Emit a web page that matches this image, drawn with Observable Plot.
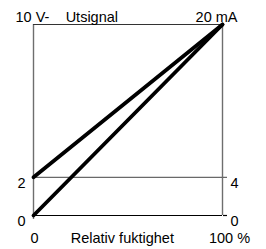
<!DOCTYPE html>
<html><head><meta charset="utf-8">
<script src="https://cdn.jsdelivr.net/npm/d3@7"></script>
<script src="https://cdn.jsdelivr.net/npm/@observablehq/plot@0.6"></script>
<style>body{margin:0;background:#fff;} svg{display:block;}</style>
</head><body><div id="chart"></div>
<script>
// Data
const humidity = [0, 100];          // Relativ fuktighet (%)
const voltage = [0, 10];            // V output
const current = [4, 20];            // mA output
const vPerMA = 10 / 20;             // 20 mA corresponds to 10 V on the shared scale
const leftTickValues = [0, 2];
const leftTickLabels = ["0", "2"];
const rightTickValues = [0, 4];     // mA
const rightTickLabels = ["0", "4"];
const bottomLabels = ["0", "Relativ fuktighet", "100 %"];
const bottomLabelX = [0, 47, 100];
const topLabels = ["10 V-", "Utsignal", "20 mA"];
const topLabelX = [0, 17, 100];

const vLine = humidity.map((h, i) => ({x: h, y: voltage[i]}));
const iLine = humidity.map((h, i) => ({x: h, y: current[i] * vPerMA}));

const font = "Liberation Sans, Arial, sans-serif";
const txt = {fontSize: 14.5, fill: "#000", fontFamily: font};

const chart = Plot.plot({
  width: 266, height: 249,
  marginLeft: 33, marginRight: 44, marginTop: 24, marginBottom: 34,
  x: {domain: [0, 100], axis: null},
  y: {domain: [0, 10], axis: null},
  style: {fontFamily: font, fontSize: "14.5px", background: "#fff", color: "#000"},
  marks: [
    // frame pieces
    Plot.ruleX([0, 100], {y1: 0, y2: 10, stroke: "#6e6e6e", strokeWidth: 1.4}),
    Plot.ruleY([10], {x1: 0, x2: 100, stroke: "#333", strokeWidth: 1}),
    Plot.ruleY([rightTickValues[1] * vPerMA], {x1: 0, x2: 100, stroke: "#444", strokeWidth: 1}),
    Plot.ruleY([0], {x1: 0, x2: 100, stroke: "#000", strokeWidth: 1.2}),
    // ticks
    Plot.axisX({ticks: [0], tickSize: 4, tickFormat: () => "", label: null, stroke: "#6e6e6e", strokeWidth: 1.4}),
    Plot.axisY({anchor: "right", ticks: [rightTickValues[1] * vPerMA], tickSize: 4, tickFormat: () => "", label: null, stroke: "#444"}),
    Plot.axisY({anchor: "right", ticks: [0], tickSize: 4, tickFormat: () => "", label: null, stroke: "#000", strokeWidth: 1.2}),
    // data lines
    Plot.line(vLine, {x: "x", y: "y", stroke: "#000", strokeWidth: 3.8}),
    Plot.line(iLine, {x: "x", y: "y", stroke: "#000", strokeWidth: 3.8}),
    // left labels
    Plot.text(leftTickValues, {x: 0, y: d => d, text: (d, i) => leftTickLabels[i], textAnchor: "end", dx: -8, dy: 6, ...txt}),
    // right labels
    Plot.text(rightTickValues, {x: 100, y: d => d * vPerMA, text: (d, i) => rightTickLabels[i], textAnchor: "start", dx: 8, dy: 6, ...txt}),
    // bottom labels
    Plot.text([bottomLabels[0]], {x: bottomLabelX[0], y: 0, text: d => d, textAnchor: "middle", dx: 1, dy: 23, ...txt}),
    Plot.text([bottomLabels[1]], {x: bottomLabelX[1], y: 0, text: d => d, textAnchor: "middle", dy: 23, ...txt}),
    Plot.text([bottomLabels[2]], {x: bottomLabelX[2], y: 0, text: d => d, textAnchor: "middle", dx: 7, dy: 23, ...txt}),
    // top labels
    Plot.text([topLabels[0]], {x: topLabelX[0], y: 10, text: d => d, textAnchor: "start", dx: -18, dy: -7, ...txt}),
    Plot.text([topLabels[1]], {x: topLabelX[1], y: 10, text: d => d, textAnchor: "start", dy: -7, ...txt}),
    Plot.text([topLabels[2]], {x: topLabelX[2], y: 10, text: d => d, textAnchor: "end", dx: 15, dy: -7, ...txt})
  ]
});
document.getElementById("chart").append(chart);
</script>
</body></html>
